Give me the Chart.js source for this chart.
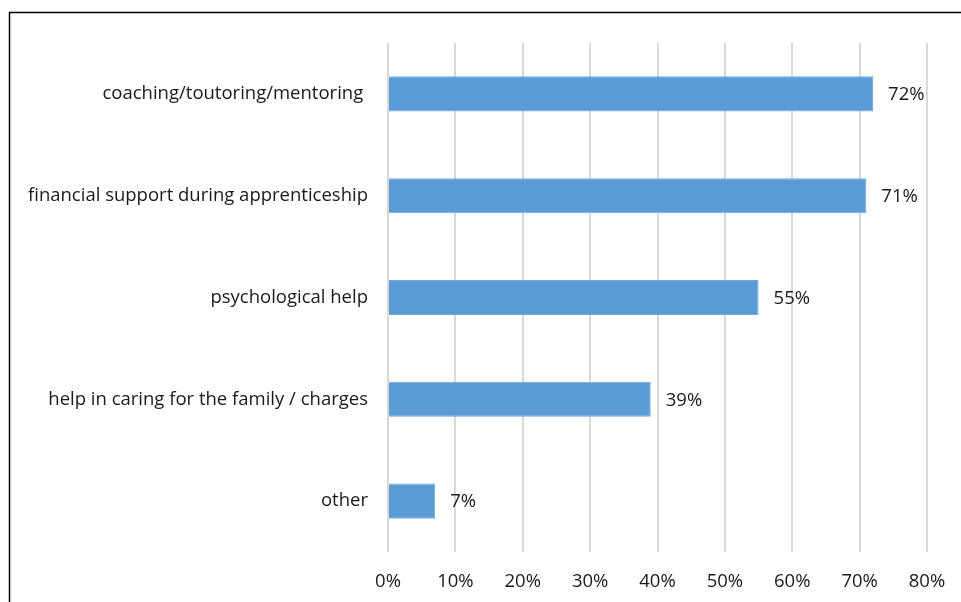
<!DOCTYPE html>
<html>
<head>
<meta charset="utf-8">
<script src="https://cdn.jsdelivr.net/npm/chart.js@4"></script>
<style>
  html, body { margin: 0; padding: 0; background: #fff; }
  #wrap { position: relative; width: 961px; height: 602px; }
</style>
</head>
<body>
<div id="wrap"><canvas id="barChart" width="961" height="602"></canvas></div>
<script>
const categories = [
    'coaching/toutoring/mentoring ',
    'financial support during apprenticeship',
    'psychological help',
    'help in caring for the family / charges',
    'other'
];
const shares = [72, 71, 55, 39, 7];   // percent of respondents
const tickValues = [0, 10, 20, 30, 40, 50, 60, 70, 80];

const FONT = '"Open Sans", Lato, sans-serif';
const FONT_SIZE = 18.5;
const TEXT = '#1a1a1a';

// frame line at top and left, like the cropped picture
const framePlugin = {
    id: 'frame',
    beforeDraw(chart) {
        const ctx = chart.ctx;
        ctx.save();
        ctx.fillStyle = '#fff';
        ctx.fillRect(0, 0, chart.width, chart.height);
        ctx.strokeStyle = '#000';
        ctx.lineWidth = 1.5;
        ctx.beginPath();
        ctx.moveTo(9.5, chart.height);
        ctx.lineTo(9.5, 12.5);
        ctx.lineTo(chart.width, 12.5);
        ctx.stroke();
        ctx.restore();
    }
};

// value labels to the right of each bar
const valueLabels = {
    id: 'valueLabels',
    afterDatasetsDraw(chart) {
        const ctx = chart.ctx;
        const meta = chart.getDatasetMeta(0);
        ctx.save();
        ctx.font = FONT_SIZE + 'px ' + FONT;
        ctx.fillStyle = TEXT;
        ctx.textAlign = 'left';
        ctx.textBaseline = 'middle';
        meta.data.forEach((bar, i) => {
            ctx.fillText(shares[i] + '%', bar.x + 15, bar.y + 1);
        });
        ctx.restore();
    }
};

new Chart(document.getElementById('barChart'), {
    type: 'bar',
    data: {
        labels: categories,
        datasets: [{
            data: shares,
            backgroundColor: '#5B9BD5',
            borderColor: '#6FA8DC',
            borderWidth: 1,
            categoryPercentage: 1,
            barPercentage: 0.345
        }]
    },
    options: {
        indexAxis: 'y',
        responsive: false,
        animation: false,
        layout: { padding: { top: 43, right: 34, left: 0, bottom: 0 } },
        scales: {
            x: {
                min: 0,
                max: 80,
                afterBuildTicks: axis => { axis.ticks = tickValues.map(v => ({ value: v })); },
                afterFit: axis => {
                    axis.height = 50;
                    axis.paddingLeft = 0;   // let layout padding decide the right edge
                    axis.paddingRight = 0;
                },
                ticks: {
                    padding: 19,
                    color: TEXT,
                    font: { family: FONT, size: FONT_SIZE },
                    callback: v => v + '%'
                },
                grid: { color: '#d9d9d9', lineWidth: 2, drawTicks: false },
                border: { display: false }
            },
            y: {
                afterFit: axis => { axis.width = 388; },
                ticks: {
                    padding: 12,
                    color: TEXT,
                    font: { family: FONT, size: FONT_SIZE }
                },
                grid: { display: false },
                border: { display: false }
            }
        },
        plugins: {
            legend: { display: false },
            tooltip: { enabled: false }
        }
    },
    plugins: [framePlugin, valueLabels]
});
</script>
</body>
</html>
